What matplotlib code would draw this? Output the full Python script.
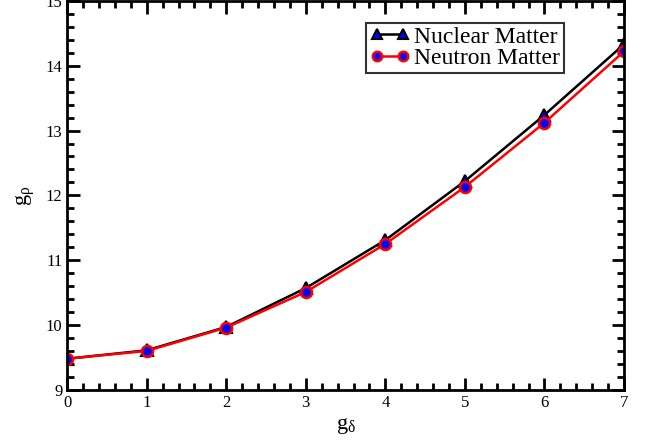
import matplotlib
matplotlib.use("Agg")
import matplotlib.pyplot as plt
from matplotlib.ticker import MultipleLocator

plt.rcParams['font.family'] = ['Liberation Serif', 'DejaVu Serif']
plt.rcParams['mathtext.fontset'] = 'custom'
plt.rcParams['mathtext.rm'] = 'Liberation Serif'
plt.rcParams['mathtext.it'] = 'Liberation Serif'

# coupling data
g_delta = [0, 1, 2, 3, 4, 5, 6, 7]
g_rho_nuclear = [9.48, 9.61, 9.97, 10.57, 11.31, 12.22, 13.24, 14.33]
g_rho_neutron = [9.48, 9.60, 9.96, 10.51, 11.25, 12.13, 13.12, 14.22]

fig = plt.figure(figsize=(6.52, 4.42), dpi=100)
ax = fig.add_axes([0.103, 0.118, 0.854, 0.88])

ax.plot(g_delta, g_rho_nuclear, color='black', lw=1.8, marker='^', ms=8,
        mfc='blue', mec='black', mew=1.5, label='Nuclear Matter')
ax.plot(g_delta, g_rho_neutron, color='red', lw=1.8, marker='o', ms=8,
        mfc='blue', mec='red', mew=1.8, label='Neutron Matter')

ax.set_xlim(0, 7)
ax.set_ylim(9, 15)
ax.xaxis.set_major_locator(MultipleLocator(1))
ax.xaxis.set_minor_locator(MultipleLocator(0.2))
ax.yaxis.set_major_locator(MultipleLocator(1))
ax.yaxis.set_minor_locator(MultipleLocator(0.2))
ax.tick_params(which='both', direction='in', top=True, right=True, width=2, labelsize=12)
ax.tick_params(which='major', length=9)
ax.tick_params(which='minor', length=5)
for s in ax.spines.values():
    s.set_linewidth(2)

ax.set_xlabel(r'g$_\delta$', fontsize=16, labelpad=4)
ax.set_ylabel(r'g$_\rho$', fontsize=16, labelpad=6)

leg = ax.legend(loc='upper right', bbox_to_anchor=(0.892, 0.944), fontsize=17,
                numpoints=2, markerscale=0.85, frameon=True, fancybox=False,
                edgecolor='black', handlelength=1.7, handletextpad=0.2,
                borderpad=0.15, labelspacing=0.0, borderaxespad=0.0)
leg.get_frame().set_linewidth(1.5)

fig.savefig('out.png', dpi=100)
